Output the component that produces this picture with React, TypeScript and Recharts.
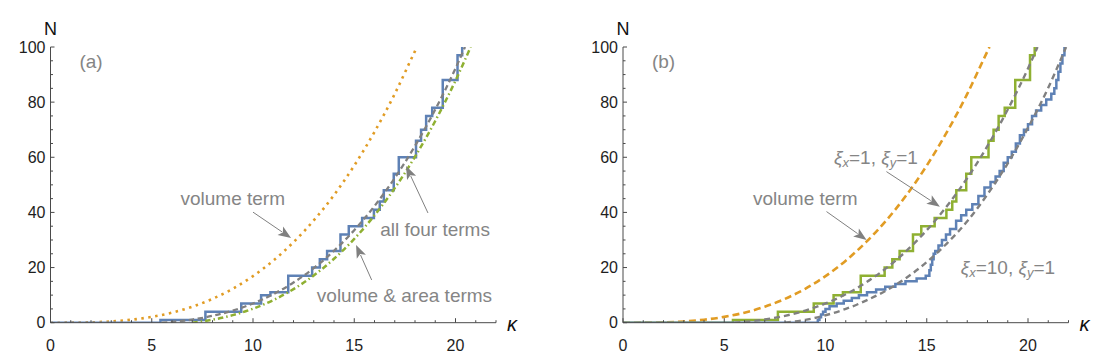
import React from 'react';
import { LineChart, Line, XAxis, YAxis, ReferenceDot, ReferenceLine } from 'recharts';

// ---------- data ----------
const xTicks = [0, 1, 2, 3, 4, 5, 6, 7, 8, 9, 10, 11, 12, 13, 14, 15, 16, 17, 18, 19, 20, 21, 22];
const yTicks = [0, 5, 10, 15, 20, 25, 30, 35, 40, 45, 50, 55, 60, 65, 70, 75, 80, 85, 90, 95, 100];

// volume term
const volK = [0, 1, 2, 3, 4, 5, 6, 7, 8, 9, 10, 11, 12, 13, 14, 15, 16, 17, 18, 18.1];
const volN = [0, 0.02, 0.14, 0.46, 1.08, 2.11, 3.65, 5.79, 8.65, 12.3, 16.9, 22.5, 29.2, 37.1, 46.3, 57.0, 69.2, 83.0, 98.5, 100];

// volume & area terms
const areaK = [7, 8, 9, 10, 11, 12, 13, 14, 15, 16, 17, 18, 19, 20, 20.75];
const areaN = [0, 1.08, 2.74, 5.07, 8.18, 12.17, 17.13, 23.18, 30.4, 38.92, 48.81, 60.2, 73.16, 87.83, 100];

// all four terms (xi_x = 1, xi_y = 1)
const fourK = [5.5, 6, 7, 8, 9, 10, 11, 12, 13, 14, 15, 16, 17, 18, 19, 20, 20.47];
const fourN = [0, 0.29, 1.15, 2.48, 4.39, 6.97, 10.33, 14.57, 19.78, 26.08, 33.55, 42.32, 52.46, 64.1, 77.31, 92.23, 100];

// smooth estimate for xi_x = 10, xi_y = 1
const tenK = [8, 9, 10, 11, 12, 13, 14, 15, 16, 17, 18, 19, 20, 21, 21.88];
const tenN = [0, 1.0, 2.7, 5.0, 8.0, 11.7, 16.3, 22.0, 28.8, 36.8, 46.6, 57.8, 70.7, 85.2, 100];

// staircase counting function, xi_x = 1, xi_y = 1
const stepOneK = [0, 5.43, 7.65, 9.42, 10.4, 10.86, 11.74, 12.92, 13.3, 13.66, 14.32, 14.73, 15.39, 15.97, 16.26, 16.46, 16.95, 17.2, 18.05, 18.3, 18.55, 18.85, 19.37, 20.1, 20.33];
const stepOneN = [0, 1, 4, 7, 10, 11, 17, 20, 23, 26, 32, 35, 38, 41, 44, 48, 54, 60, 66, 70, 75, 78, 88, 97, 100];

// staircase counting function, xi_x = 10, xi_y = 1
const stepTenK = [0, 9.62, 9.7, 9.78, 9.88, 10.0, 10.2, 10.55, 10.9, 11.3, 11.65, 12.05, 12.5, 12.95, 13.45, 13.95, 14.5, 14.95, 15.13, 15.2, 15.27, 15.34, 15.42, 15.58, 15.75, 15.95, 16.15, 16.45, 16.7, 16.95, 17.25, 17.55, 17.85, 18.15, 18.4, 18.6, 18.8, 19.0, 19.2, 19.4, 19.6, 19.8, 20.0, 20.2, 20.4, 20.65, 20.9, 21.15, 21.3, 21.4, 21.5, 21.6, 21.7, 21.8];
const stepTenN = [0, 1, 2, 3, 4, 5, 6, 7, 8, 9, 10, 11, 12, 13, 14, 15, 16, 17, 19, 21, 23, 25, 26, 28, 30, 32, 34, 37, 39, 41, 43, 46, 49, 51, 53, 55, 58, 60, 62, 65, 68, 70, 72, 75, 77, 79, 81, 83, 85, 88, 91, 94, 97, 100];

// annotations (data coordinates)
const panelLabels = ['(a)', '(b)'];
const labelPos = { k: 2.0, n: 94.6 };
const volText = { k: 9.0, n: 44.9 };
const volArrowA = [{ x: 10.0, y: 40.1 }, { x: 11.88, y: 30.7 }];
const volArrowB = [{ x: 10.05, y: 40.3 }, { x: 12.03, y: 30.0 }];
const fourText = { k: 18.99, n: 33.9 };
const fourArrow = [{ x: 18.64, y: 39.8 }, { x: 17.56, y: 56.8 }];
const areaText = { k: 17.48, n: 10.0 };
const areaArrow = [{ x: 15.86, y: 15.5 }, { x: 15.09, y: 28.2 }];
const xiOneText = { k: 12.49, n: 60.2 };
const xiOneArrow = [{ x: 13.01, y: 54.8 }, { x: 15.65, y: 42.1 }];
const xiTenText = { k: 19.01, n: 20.1 };

// ---------- styles ----------
const FONT = '"Liberation Sans", Arial, sans-serif';
const AXIS = '#4a4a4a';
const TICKLABEL = '#1e1e1e';
const NOTE = '#858585';
const BLUE = '#5E81B5';
const ORANGE = '#E19C24';
const GREEN = '#8FB032';
const GRAY = '#808080';

const pts = (ks: number[], ns: number[]) => ks.map((k, i) => ({ k, n: ns[i] }));

const XTick = (props: any) => {
  const { x, y, payload } = props;
  const v = payload.value;
  const major = v % 5 === 0;
  return (
    <g>
      <line x1={x} y1={y} x2={x} y2={y - (major ? 4.5 : 2.5)} stroke={AXIS} strokeWidth={1} />
      {major && (
        <text x={x} y={y + 23} textAnchor="middle" dominantBaseline="central" fontSize={16} fill={TICKLABEL} fontFamily={FONT}>
          {v}
        </text>
      )}
    </g>
  );
};

const YTick = (props: any) => {
  const { x, y, payload } = props;
  const v = payload.value;
  const major = v % 20 === 0;
  return (
    <g>
      <line x1={x} y1={y} x2={x + (major ? 4 : 2.5)} y2={y} stroke={AXIS} strokeWidth={1} />
      {major && (
        <text x={x - 5} y={y} textAnchor="end" dominantBaseline="central" fontSize={16} fill={TICKLABEL} fontFamily={FONT}>
          {v}
        </text>
      )}
    </g>
  );
};

const Arrow = (p: any) => {
  const { x1, y1, x2, y2 } = p;
  const dx = x2 - x1;
  const dy = y2 - y1;
  const len = Math.sqrt(dx * dx + dy * dy) || 1;
  const ux = dx / len;
  const uy = dy / len;
  const L = 13;
  const W = 5;
  const bx = x2 - ux * L;
  const by = y2 - uy * L;
  return (
    <g>
      <line x1={x1} y1={y1} x2={bx + ux * 2} y2={by + uy * 2} stroke={GRAY} strokeWidth={1} />
      <polygon points={`${x2},${y2} ${bx - uy * W},${by + ux * W} ${bx + ux * 3},${by + uy * 3} ${bx + uy * W},${by - ux * W}`} fill={GRAY} />
    </g>
  );
};

const Note = ({ k, n, children, size = 19 }: any) => (
  <ReferenceDot
    x={k}
    y={n}
    r={0}
    ifOverflow="visible"
    shape={(p: any) => (
      <text x={p.cx} y={p.cy} textAnchor="middle" dominantBaseline="central" fontSize={size} fill={NOTE} fontFamily={FONT}>
        {children}
      </text>
    )}
  />
);

const XiText = ({ a, b }: { a: string; b: string }) => (
  <>
    <tspan fontStyle="italic">ξ</tspan>
    <tspan fontStyle="italic" fontSize={13} dy={5}>x</tspan>
    <tspan dy={-5}>={a}, </tspan>
    <tspan fontStyle="italic">ξ</tspan>
    <tspan fontStyle="italic" fontSize={13} dy={5}>y</tspan>
    <tspan dy={-5}>={b}</tspan>
  </>
);

const axes = () => [
  <XAxis
    key="x"
    type="number"
    dataKey="k"
    domain={[0, 22]}
    ticks={xTicks}
    interval={0}
    allowDataOverflow
    height={30}
    tickSize={0}
    tickMargin={0}
    tickLine={false}
    axisLine={{ stroke: AXIS, strokeWidth: 1 }}
    tick={(p: any) => <XTick {...p} />}
    label={{
      content: (p: any) => {
        const vb = p.viewBox;
        return (
          <text x={vb.x + vb.width + 16} y={vb.y + 1} textAnchor="middle" dominantBaseline="central" fontSize={20} fontStyle="italic" fill="#111" fontFamily={FONT}>
            κ
          </text>
        );
      },
    }}
  />,
  <YAxis
    key="y"
    type="number"
    domain={[0, 100]}
    ticks={yTicks}
    interval={0}
    allowDataOverflow
    width={40}
    tickSize={0}
    tickMargin={0}
    tickLine={false}
    axisLine={{ stroke: AXIS, strokeWidth: 1 }}
    tick={(p: any) => <YTick {...p} />}
    label={{
      content: (p: any) => {
        const vb = p.viewBox;
        return (
          <text x={vb.x + vb.width} y={vb.y - 18} textAnchor="middle" dominantBaseline="central" fontSize={18} fill="#111" fontFamily={FONT}>
            N
          </text>
        );
      },
    }}
  />,
];

const ChartA = () => (
  <LineChart width={555} height={363} margin={{ top: 47, right: 59, bottom: 10.3, left: 10.5 }}>
    {axes()}
    <Line data={pts(volK, volN)} dataKey="n" type="monotone" stroke={ORANGE} strokeWidth={2.6} strokeDasharray="2.5 4.5" dot={false} isAnimationActive={false} />
    <Line data={pts(stepOneK, stepOneN)} dataKey="n" type="stepAfter" stroke={BLUE} strokeWidth={2.5} dot={false} isAnimationActive={false} />
    <Line data={pts(fourK, fourN)} dataKey="n" type="monotone" stroke={GRAY} strokeWidth={2.3} strokeDasharray="5.5 3.5" dot={false} isAnimationActive={false} />
    <Line data={pts(areaK, areaN)} dataKey="n" type="monotone" stroke={GREEN} strokeWidth={2.5} strokeDasharray="5.5 3 1.5 3" dot={false} isAnimationActive={false} />
    <Note k={labelPos.k} n={labelPos.n}>{panelLabels[0]}</Note>
    <Note k={volText.k} n={volText.n}>volume term</Note>
    <Note k={fourText.k} n={fourText.n}>all four terms</Note>
    <Note k={areaText.k} n={areaText.n}>volume &amp; area terms</Note>
    <ReferenceLine segment={volArrowA} ifOverflow="visible" shape={(p: any) => <Arrow {...p} />} />
    <ReferenceLine segment={fourArrow} ifOverflow="visible" shape={(p: any) => <Arrow {...p} />} />
    <ReferenceLine segment={areaArrow} ifOverflow="visible" shape={(p: any) => <Arrow {...p} />} />
  </LineChart>
);

const ChartB = () => (
  <LineChart width={556} height={363} margin={{ top: 47, right: 42.5, bottom: 10.3, left: 28 }}>
    {axes()}
    <Line data={pts(volK, volN)} dataKey="n" type="monotone" stroke={ORANGE} strokeWidth={2.6} strokeDasharray="7 4" dot={false} isAnimationActive={false} />
    <Line data={pts(stepOneK, stepOneN)} dataKey="n" type="stepAfter" stroke={GREEN} strokeWidth={2.5} dot={false} isAnimationActive={false} />
    <Line data={pts(stepTenK, stepTenN)} dataKey="n" type="stepAfter" stroke={BLUE} strokeWidth={2.5} dot={false} isAnimationActive={false} />
    <Line data={pts(fourK, fourN)} dataKey="n" type="monotone" stroke={GRAY} strokeWidth={2.4} strokeDasharray="6 4" dot={false} isAnimationActive={false} />
    <Line data={pts(tenK, tenN)} dataKey="n" type="monotone" stroke={GRAY} strokeWidth={2.4} strokeDasharray="6 4" dot={false} isAnimationActive={false} />
    <Note k={labelPos.k} n={labelPos.n}>{panelLabels[1]}</Note>
    <Note k={volText.k} n={volText.n}>volume term</Note>
    <Note k={xiOneText.k} n={xiOneText.n}><XiText a="1" b="1" /></Note>
    <Note k={xiTenText.k} n={xiTenText.n}><XiText a="10" b="1" /></Note>
    <ReferenceLine segment={volArrowB} ifOverflow="visible" shape={(p: any) => <Arrow {...p} />} />
    <ReferenceLine segment={xiOneArrow} ifOverflow="visible" shape={(p: any) => <Arrow {...p} />} />
  </LineChart>
);

export default function App() {
  return (
    <div style={{ position: 'absolute', left: 0, top: 0, width: 1111, height: 363, background: '#fff' }}>
      <div style={{ position: 'absolute', left: 0, top: 0 }}>
        <ChartA />
      </div>
      <div style={{ position: 'absolute', left: 555, top: 0 }}>
        <ChartB />
      </div>
    </div>
  );
}
